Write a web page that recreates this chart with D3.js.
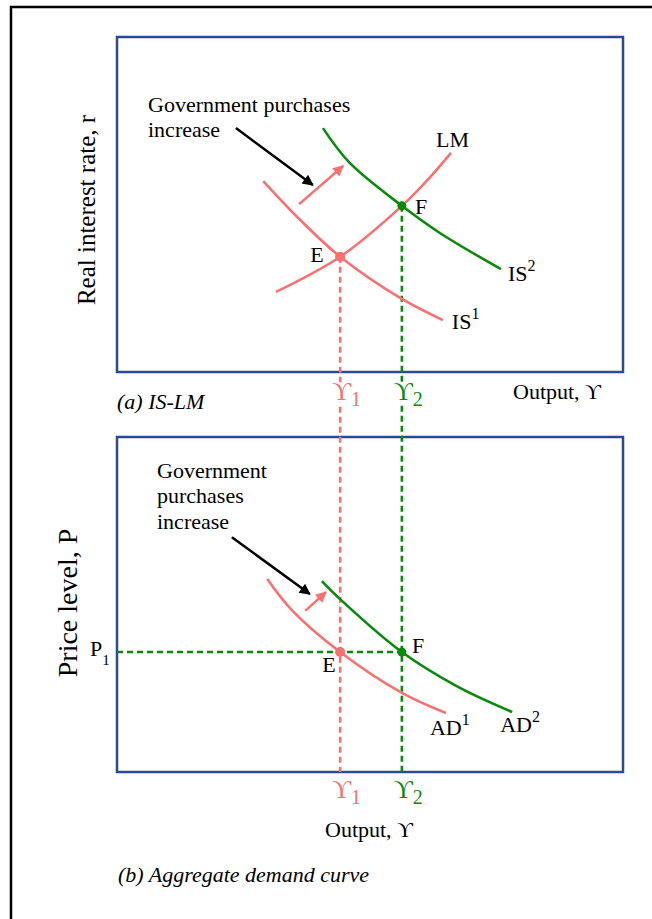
<!DOCTYPE html>
<html>
<head>
<meta charset="utf-8">
<script src="https://cdn.jsdelivr.net/npm/d3@7"></script>
<style>
  body { margin: 0; background: #fff; }
  text { font-family: "Liberation Serif", "Times New Roman", serif; fill: #000; }
</style>
</head>
<body>
<div class="chart"></div>
<script>
// values, in chart units (0-100 on both axes of each panel)

const outputLevels = [44.1, 56.3];          // Y1, Y2
const outputLabels = ["1", "2"];
const rateLevels = [34.4, 49.6];            // r at E and F
const priceLevel = 35.8;                    // P1

const lmCurve = [[31.4, 23.9], [44.1, 34.4], [56.3, 49.6], [61.9, 58.2], [66.0, 65.4]];
const is1Curve = [[28.9, 57.0], [36.2, 45.4], [44.1, 34.4], [56.3, 21.8], [64.4, 15.5]];
const is2Curve = [[40.7, 72.8], [46.0, 62.4], [56.3, 49.6], [63.8, 41.5], [75.9, 30.7]];

const ad1Curve = [[29.7, 57.6], [34.5, 48.4], [44.1, 35.8], [56.3, 23.6], [65.0, 17.6]];
const ad2Curve = [[40.5, 57.0], [44.3, 51.3], [56.3, 35.8], [67.4, 25.4], [78.1, 17.9]];

const shiftTop = [[36.0, 50.1], [44.7, 61.5]];
const pointerTop = [[23.5, 72.8], [38.7, 55.8]];
const shiftBottom = [[37.2, 48.1], [41.3, 53.7]];
const pointerBottom = [[22.7, 70.1], [38.1, 53.1]];

const salmon = "#f87070";
const green = "#0a8a0a";

const svg = d3.select(".chart")
  .append("svg")
  .attr("width", 652)
  .attr("height", 919);

const defs = svg.append("defs");
const addHead = (id, color, len, wid) => {
  defs.append("marker")
    .attr("id", id)
    .attr("markerUnits", "userSpaceOnUse")
    .attr("viewBox", "0 0 10 10")
    .attr("refX", 9)
    .attr("refY", 5)
    .attr("markerWidth", len)
    .attr("markerHeight", wid)
    .attr("orient", "auto")
    .append("path")
    .attr("d", "M0,0 L10,5 L0,10 Z")
    .attr("fill", color);
};
addHead("headBlack", "#000", 14, 11);
addHead("headSalmon", salmon, 15, 11);

// outer frame
svg.append("rect")
  .attr("x", 11).attr("y", 7)
  .attr("width", 800).attr("height", 1000)
  .attr("fill", "none")
  .attr("stroke", "#000")
  .attr("stroke-width", 2.5);

const xScale = d3.scaleLinear().domain([0, 100]).range([117, 623]);
const yTop = d3.scaleLinear().domain([0, 100]).range([372, 37]);
const yBot = d3.scaleLinear().domain([0, 100]).range([772, 437]);

const curve = y => d3.line()
  .x(d => xScale(d[0]))
  .y(d => y(d[1]))
  .curve(d3.curveCatmullRom);

// panel boxes
[yTop, yBot].forEach(y => {
  svg.append("rect")
    .attr("x", xScale(0))
    .attr("y", y(100))
    .attr("width", xScale(100) - xScale(0))
    .attr("height", y(0) - y(100))
    .attr("fill", "none")
    .attr("stroke", "#2c4a94")
    .attr("stroke-width", 2.5);
});

// dashed guides
const dash = (x1, y1, x2, y2, color) => svg.append("line")
  .attr("x1", x1).attr("y1", y1).attr("x2", x2).attr("y2", y2)
  .attr("stroke", color)
  .attr("stroke-width", 2.6)
  .attr("stroke-dasharray", "6,4");

dash(xScale(outputLevels[0]), yTop(rateLevels[0]), xScale(outputLevels[0]), yBot(0), salmon);
dash(xScale(outputLevels[1]), yTop(rateLevels[1]), xScale(outputLevels[1]), yBot(0), green);
dash(xScale(0), yBot(priceLevel), xScale(outputLevels[1]), yBot(priceLevel), green);

// curves
const drawCurve = (data, y, color) => svg.append("path")
  .attr("d", curve(y)(data))
  .attr("fill", "none")
  .attr("stroke", color)
  .attr("stroke-width", 2.6);

drawCurve(lmCurve, yTop, salmon);
drawCurve(is1Curve, yTop, salmon);
drawCurve(is2Curve, yTop, green);
drawCurve(ad1Curve, yBot, salmon);
drawCurve(ad2Curve, yBot, green);

// arrows
const drawArrow = (data, y, color, head) => svg.append("line")
  .attr("x1", xScale(data[0][0])).attr("y1", y(data[0][1]))
  .attr("x2", xScale(data[1][0])).attr("y2", y(data[1][1]))
  .attr("stroke", color)
  .attr("stroke-width", 2.5)
  .attr("marker-end", `url(#${head})`);

drawArrow(pointerTop, yTop, "#000", "headBlack");
drawArrow(shiftTop, yTop, salmon, "headSalmon");
drawArrow(pointerBottom, yBot, "#000", "headBlack");
drawArrow(shiftBottom, yBot, salmon, "headSalmon");

// equilibrium points
const dot = (x, y, color, r) => svg.append("circle")
  .attr("cx", x).attr("cy", y).attr("r", r).attr("fill", color);

dot(xScale(outputLevels[0]), yTop(rateLevels[0]), salmon, 5);
dot(xScale(outputLevels[1]), yTop(rateLevels[1]), green, 4.5);
dot(xScale(outputLevels[0]), yBot(priceLevel), salmon, 5);
dot(xScale(outputLevels[1]), yBot(priceLevel), green, 4.5);

// labels
const label = (txt, x, y, size, opts = {}) => svg.append("text")
  .attr("x", x).attr("y", y)
  .style("font-size", size + "px")
  .style("font-style", opts.italic ? "italic" : "normal")
  .attr("text-anchor", opts.anchor || "start")
  .text(txt);

const supLabel = (main, sup, x, y) => {
  const t = label(main, x, y, 22);
  t.append("tspan").attr("dy", -10).style("font-size", "16px").text(sup);
};

label("Government purchases", 148, 112, 22);
label("increase", 148, 137, 22);
label("Government", 157, 478, 22);
label("purchases", 157, 503, 22);
label("increase", 157, 529, 22);

const end = a => a[a.length - 1];
label("LM", xScale(end(lmCurve)[0]) - 15, yTop(end(lmCurve)[1]) - 6, 22);
supLabel("IS", "1", xScale(end(is1Curve)[0]) + 9, yTop(end(is1Curve)[1]) + 9);
supLabel("IS", "2", xScale(end(is2Curve)[0]) + 7, yTop(end(is2Curve)[1]) + 12);
supLabel("AD", "1", xScale(end(ad1Curve)[0]) - 16, yBot(end(ad1Curve)[1]) + 22);
supLabel("AD", "2", xScale(end(ad2Curve)[0]) - 12, yBot(end(ad2Curve)[1]) + 20);

label("E", xScale(outputLevels[0]) - 30, yTop(rateLevels[0]) + 5, 22);
label("F", xScale(outputLevels[1]) + 13, yTop(rateLevels[1]) + 8, 22);
label("E", xScale(outputLevels[0]) - 18, yBot(priceLevel) + 20, 22);
label("F", xScale(outputLevels[1]) + 10, yBot(priceLevel) + 1, 22);

const p1 = label("P", xScale(0) - 27, yBot(priceLevel) + 4, 22);
p1.append("tspan").attr("dy", 9).style("font-size", "15px").text("1");

// output level tick labels, under each panel
[[yTop, 400], [yBot, 798]].forEach(([y, base]) => {
  outputLevels.forEach((v, i) => {
    const t = svg.append("text")
      .attr("x", xScale(v) - 8)
      .attr("y", base)
      .style("font-size", "26px")
      .style("fill", i === 0 ? salmon : green)
      .style("stroke", "#fff")
      .style("stroke-width", "5px")
      .style("paint-order", "stroke")
      .text("\u03D2");
    t.append("tspan").attr("dy", 6).style("font-size", "20px").text(outputLabels[i]);
  });
});

label("Output, \u03D2", 513, 399, 22);
label("(a) IS-LM", 117, 409, 22, { italic: true });
label("Output, \u03D2", 325, 837, 22);
label("(b) Aggregate demand curve", 118, 882, 22, { italic: true });

svg.append("text")
  .attr("transform", "translate(95,210) rotate(-90)")
  .attr("text-anchor", "middle")
  .style("font-size", "25px")
  .text("Real interest rate, r");

svg.append("text")
  .attr("transform", "translate(77,603) rotate(-90)")
  .attr("text-anchor", "middle")
  .style("font-size", "28px")
  .text("Price level, P");
</script>
</body>
</html>
